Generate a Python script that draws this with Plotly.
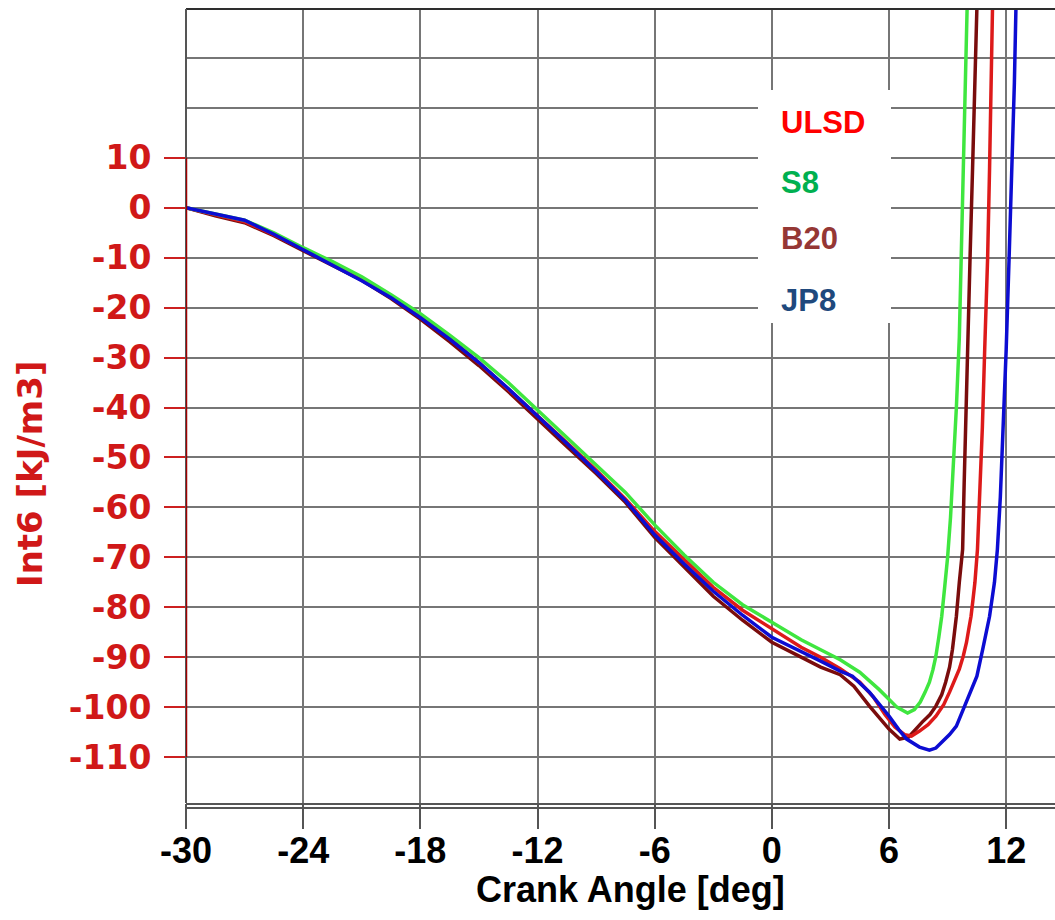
import plotly.graph_objects as go

# Integrated quantity vs crank angle for four fuels
ULSD_X = [-30, -28.5, -27, -25.5, -24, -22.5, -21, -19.5, -18, -16.5, -15, -13.5, -12, -10.5,
          -9, -7.5, -6, -4.5, -3, -1.5, 0, 1.5, 2.5, 3.5, 4.5, 5.2, 5.8, 6.3, 6.8, 7.15, 7.56,
          8.0, 8.4, 8.8, 9.1, 9.35, 9.6, 9.8, 9.97, 10.1, 10.2, 10.3, 10.4, 10.53, 10.65,
          10.78, 10.9, 11.05, 11.15, 11.25, 11.3]
ULSD_Y = [0, -1.4, -2.8, -5.4, -8.3, -11.2, -14.3, -17.9, -21.8, -26.2, -31, -36.3, -41.8, -47,
          -52.5, -58.3, -64.8, -70.5, -76, -80.6, -84.3, -88, -90, -92.3, -95, -98, -101.5,
          -104, -105.5, -105.8, -104.8, -103.5, -101.8, -99.5, -97, -94.8, -92.4, -89.8, -87,
          -84, -81.8, -78.5, -75, -68.4, -58, -44, -28.4, -10, 8, 25, 40]

S8_X = [-30, -28.5, -27, -25.5, -24, -22.5, -21, -19.5, -18, -16.5, -15, -13.5, -12, -10.5,
        -9, -7.5, -6, -4.5, -3, -1.5, 0, 1.5, 2.5, 3.5, 4.5, 5.5, 6.4, 6.95, 7.3, 7.6, 7.85,
        8.07, 8.25, 8.4, 8.55, 8.7, 8.85, 9.0, 9.15, 9.3, 9.45, 9.6, 9.7, 9.8, 9.9, 10.0]
S8_Y = [0, -1.2, -2.5, -5, -8, -10.8, -13.8, -17.4, -21.2, -25.5, -30, -35, -40.5, -46,
        -51.5, -57, -63.5, -69.5, -75, -79.5, -83, -86.5, -88.5, -90.5, -93, -96.5, -100,
        -101.2, -100.5, -99, -97, -95, -92.5, -89.8, -86, -81.8, -76, -70, -62, -52, -40,
        -26, -10, 8, 25, 40]

B20_X = [-30, -28.5, -27, -25.5, -24, -22.5, -21, -19.5, -18, -16.5, -15, -13.5, -12, -10.5,
         -9, -7.5, -6, -4.5, -3, -1.5, 0, 1.5, 2.5, 3.5, 4.2, 5.0, 5.6, 6.0, 6.55, 7.0, 7.7,
         8.1, 8.4, 8.7, 8.9, 9.1, 9.25, 9.45, 9.6, 9.77, 9.85, 9.93, 10.0, 10.15, 10.28,
         10.4, 10.5]
B20_Y = [0, -1.6, -3, -5.6, -8.6, -11.5, -14.5, -18.2, -22.3, -26.8, -31.6, -36.8, -42.4, -47.8,
         -53.2, -59, -66, -72, -77.8, -82.6, -87, -90, -92, -93.5, -95.8, -99.8, -102.5,
         -104.4, -106.4, -106, -103, -101.5, -99.8, -97.5, -95, -92, -88.4, -81.8, -75,
         -68.4, -55, -42, -28.4, -10, 8, 25, 40]

JP8_X = [-30, -28.5, -27, -25.5, -24, -22.5, -21, -19.5, -18, -16.5, -15, -13.5, -12, -10.5,
         -9, -7.5, -6, -4.5, -3, -1.5, 0, 1.5, 2.5, 3.5, 4.13, 5.0, 5.5, 6.0, 6.5, 6.9, 7.56,
         8.07, 8.4, 8.74, 9.1, 9.45, 9.7, 9.97, 10.25, 10.5, 10.8, 11.0, 11.15, 11.4, 11.55,
         11.7, 11.85, 12.0, 12.15, 12.3, 12.42, 12.5]
JP8_Y = [0, -1.3, -2.5, -5.3, -8.4, -11.4, -14.6, -18, -22, -26.3, -31, -36.2, -41.6, -47.2,
         -52.8, -58.6, -65.5, -71.3, -76.8, -81.6, -86, -88.8, -90.8, -92.8, -93.8, -97,
         -99.3, -101.8, -104.5, -106.4, -108, -108.6, -108.2, -107, -105.5, -103.8, -101.5,
         -99, -96.5, -93.8, -88.4, -85, -81.8, -75, -68.4, -58, -45, -28.4, -10, 8, 25, 40]

X_TICKS = [-30, -24, -18, -12, -6, 0, 6, 12]
Y_TICKS = [-110, -100, -90, -80, -70, -60, -50, -40, -30, -20, -10, 0, 10]
X_RANGE = [-30, 14.5]
Y_RANGE = [-119.2, 39.8]

SERIES = [
    ("B20", B20_X, B20_Y, "#7a0c0c"),
    ("ULSD", ULSD_X, ULSD_Y, "#dd1a1a"),
    ("S8", S8_X, S8_Y, "#3fe63f"),
    ("JP8", JP8_X, JP8_Y, "#0c0cd2"),
]

LABELS = [("ULSD", "#ff0000", 122), ("S8", "#00b050", 183),
          ("B20", "#953735", 238), ("JP8", "#1f497d", 300)]

W, H = 1055, 920
ML, MT, MB = 186, 9, 117
PW, PH = W - ML, H - MT - MB

fig = go.Figure()
for name, xs, ys, col in SERIES:
    fig.add_trace(go.Scatter(x=xs, y=ys, mode="lines", name=name,
                             line=dict(color=col, width=3.5), showlegend=False))
# invisible points that bring the overlay axes to life
fig.add_trace(go.Scatter(x=[X_RANGE[0]], y=[0], yaxis="y2", mode="markers",
                         marker=dict(opacity=0), showlegend=False, hoverinfo="skip"))
fig.add_trace(go.Scatter(x=[X_RANGE[0]], y=[0], xaxis="x2", mode="markers",
                         marker=dict(opacity=0), showlegend=False, hoverinfo="skip"))

GRID = "#767676"


def px_to_paper_y(py):
    return (H - MB - py) / PH


def px_to_paper_x(px):
    return (px - ML) / PW


shapes = [
    # top and left frame lines
    dict(type="line", xref="paper", yref="paper", x0=0, x1=1, y0=1, y1=1,
         line=dict(color="#2e2e2e", width=2), layer="above"),
    dict(type="line", xref="paper", yref="paper", x0=0, x1=0, y0=0, y1=1,
         line=dict(color="#555555", width=2), layer="above"),
    # second rule 5 px under the plot bottom
    dict(type="line", xref="paper", yref="paper", x0=0, x1=1, y0=-5, y1=-5,
         ysizemode="pixel", yanchor=0, line=dict(color="#555555", width=2)),
    # white panel behind the series labels
    dict(type="rect", xref="paper", yref="paper",
         x0=px_to_paper_x(758), x1=px_to_paper_x(891),
         y0=px_to_paper_y(323), y1=px_to_paper_y(90),
         fillcolor="white", line=dict(width=0), layer="above"),
    # red value axis spanning the labelled range
    dict(type="line", xref="x", yref="y", x0=X_RANGE[0], x1=X_RANGE[0],
         y0=min(Y_TICKS), y1=max(Y_TICKS),
         line=dict(color="#a00000", width=2.5), layer="above"),
]

annotations = []
for text, col, py in LABELS:
    annotations.append(dict(text=text, xref="paper", yref="paper",
                            x=px_to_paper_x(779), y=px_to_paper_y(py),
                            xanchor="left", yanchor="middle", showarrow=False,
                            font=dict(family="Liberation Sans, Arial", size=31,
                                      color=col, weight="bold")))
annotations.append(dict(text="Crank Angle [deg]", xref="paper", yref="paper",
                        x=px_to_paper_x(630), y=px_to_paper_y(889),
                        xanchor="center", yanchor="middle", showarrow=False,
                        font=dict(family="Liberation Sans, Arial", size=36,
                                  color="black", weight="bold")))
annotations.append(dict(text="Int6 [kJ/m3]", xref="paper", yref="paper",
                        x=px_to_paper_x(30), y=px_to_paper_y(474), textangle=-90,
                        xanchor="center", yanchor="middle", showarrow=False,
                        font=dict(family="DejaVu Sans", size=34,
                                  color="#d01818", weight="bold")))

fig.update_layout(
    width=W, height=H,
    margin=dict(l=ML, r=0, t=MT, b=MB, pad=0),
    paper_bgcolor="white", plot_bgcolor="white",
    showlegend=False,
    # labelled crank-angle axis; its own tick marks are hidden
    xaxis=dict(range=X_RANGE, tickvals=X_TICKS, ticktext=[str(v) for v in X_TICKS],
               showgrid=True, gridcolor=GRID, gridwidth=1.5, zeroline=False,
               showline=True, linecolor="#555555", linewidth=2, ticks="outside",
               ticklen=15, tickwidth=1, tickcolor="rgba(0,0,0,0)",
               tickfont=dict(family="Liberation Sans, Arial", size=36,
                             color="black", weight="bold")),
    # tick marks for the crank-angle axis
    xaxis2=dict(range=X_RANGE, overlaying="x", side="bottom", anchor="y",
                tickvals=X_TICKS, showticklabels=False, showgrid=False,
                zeroline=False, showline=False, ticks="outside", ticklen=25,
                tickwidth=1.5, tickcolor="#555555"),
    yaxis=dict(range=Y_RANGE, tickvals=Y_TICKS, ticktext=[str(v) for v in Y_TICKS],
               showgrid=False, zeroline=False, showline=False, ticks="outside",
               ticklen=21, tickwidth=2, tickcolor="#cc2020", ticklabelstandoff=6,
               tickfont=dict(family="DejaVu Sans", size=33, color="#d01818",
                             weight="bold")),
    yaxis2=dict(range=Y_RANGE, overlaying="y", side="left", dtick=10, tick0=0,
                showgrid=True, gridcolor=GRID, gridwidth=1.5, zeroline=False,
                showticklabels=False, ticks="", showline=False),
    shapes=shapes,
    annotations=annotations,
)

fig.write_html("out.html")
